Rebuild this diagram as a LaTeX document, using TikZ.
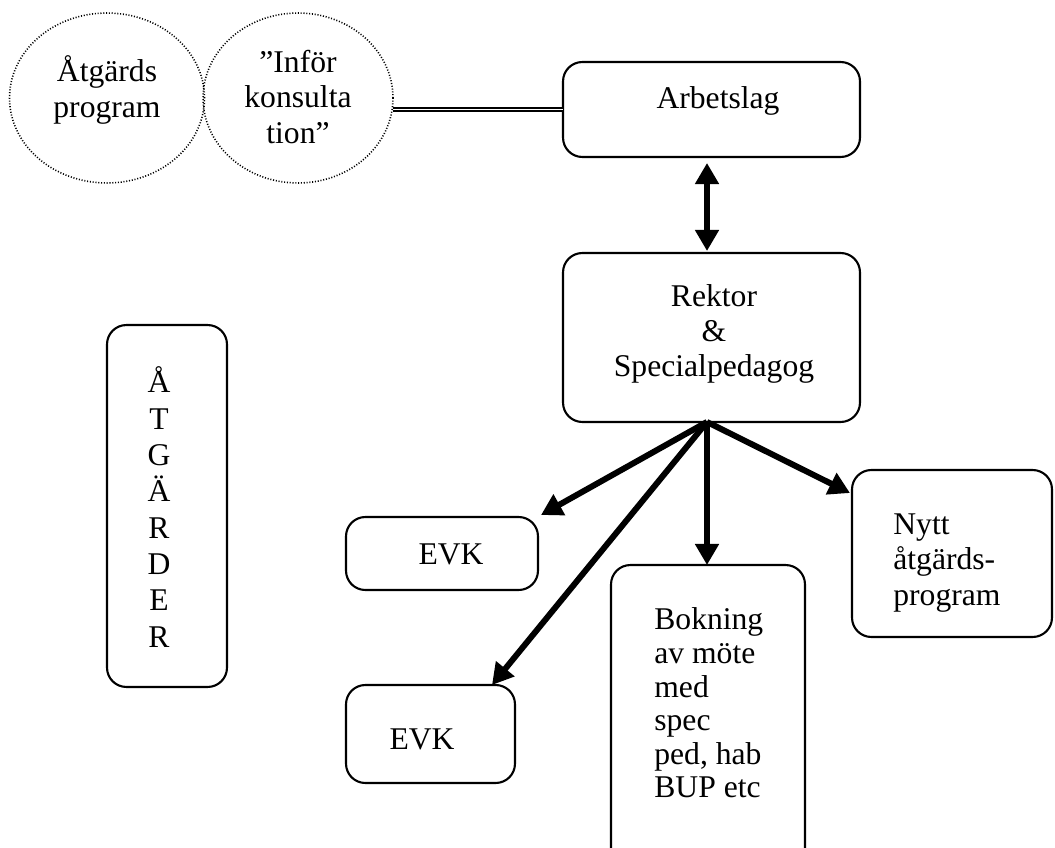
\documentclass[tikz,border=0pt]{standalone}
\usepackage{fontspec}
\setmainfont{Liberation Serif}
\usetikzlibrary{arrows.meta,shapes.geometric,calc}
\begin{document}
\begin{tikzpicture}[x=0.02cm,y=-0.02cm,
  box/.style={draw,line width=1.2pt,rounded corners=11pt,inner sep=0pt,outer sep=0pt},
  bubble/.style={draw,ellipse,line width=0.9pt,dash pattern=on 0.6pt off 1pt,inner sep=0pt,outer sep=0pt},
  txt/.style={font=\fontsize{18}{20}\selectfont,inner sep=0pt,align=center},
  thickarrow/.style={line width=3.4pt,-{Triangle[length=12pt,width=13pt]}},
  dblarrow/.style={line width=3.4pt,{Triangle[length=12pt,width=13pt]}-{Triangle[length=12pt,width=13pt]}}]
\useasboundingbox (0,0) rectangle (1055,848);
\clip (0,0) rectangle (1055,848);
% ellipses
\node[bubble,minimum width=3.9cm,minimum height=3.4cm] (ell1) at (107,98) {};
\node[bubble,minimum width=3.8cm,minimum height=3.4cm] (ell2) at (298,98) {};
\node[txt] (t1) at (107,90) {Åtgärds\\program};
\node[txt] (t2) at (298,97) {”Inför\\konsulta\\tion”};
% boxes
\node[box,minimum width=5.94cm,minimum height=1.9cm] (arb) at (711.5,109.5) {};
\node[txt] (tarb) at (718,101) {Arbetslag};
\node[box,minimum width=5.94cm,minimum height=3.38cm] (rek) at (711.5,337.5) {};
\node[txt] (trek) at (714,334) {Rektor\\\&\\Specialpedagog};
\node[box,minimum width=2.4cm,minimum height=7.24cm] (atg) at (167,506) {};
\node[txt,font=\fontsize{18}{20.7}\selectfont] (tatg) at (159,507) {Å\\T\\G\\Ä\\R\\D\\E\\R};
\node[box,minimum width=3.84cm,minimum height=1.46cm] (evka) at (442,553.5) {};
\node[txt] (tevka) at (451,554) {EVK};
\node[box,minimum width=3.38cm,minimum height=1.96cm] (evkb) at (430.5,734) {};
\node[txt] (tevkb) at (422,739) {EVK};
\node[box,minimum width=3.88cm,minimum height=6.1cm] (bok) at (708,717.5) {};
\node[txt,align=left,anchor=west,font=\fontsize{18}{19.1}\selectfont] (tbok) at (654,703) {Bokning\\av möte\\med\\spec\\ped, hab\\BUP etc};
\node[box,minimum width=4cm,minimum height=3.34cm] (nytt) at (952,553.5) {};
\node[txt,align=left,anchor=west] (tnytt) at (893,563) {Nytt\\åtgärds-\\program};
% connectors
\draw[line width=0.8pt,double,double distance=1pt] (ell2.east |- arb.west) -- (arb.west);
\draw[dblarrow] ($(arb.south)+(-4.5,6)$) -- ($(rek.north)+(-4.5,-2)$);
\coordinate (src) at ($(rek.south)+(-4.5,0)$);
\draw[thickarrow] (src) -- ($(evka.north east)+(3,-2)$);
\draw[thickarrow] (src) -- ($(evkb.north east)+(-23,0)$);
\draw[thickarrow] (src) -- (src |- bok.north);
\draw[thickarrow] (src) -- ($(nytt.north west)+(-2,23)$);
\end{tikzpicture}
\end{document}
